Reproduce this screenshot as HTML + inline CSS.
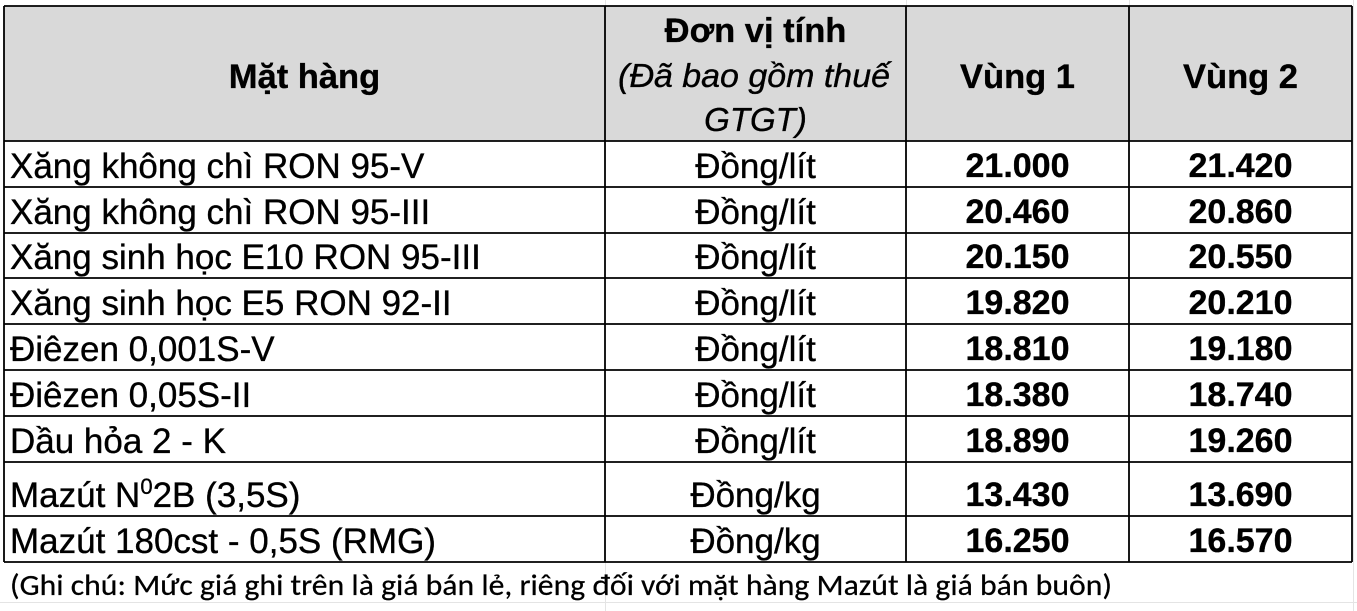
<!DOCTYPE html>
<html>
<head>
<meta charset="utf-8">
<style>
  html,body{margin:0;padding:0;background:#fff;}
  svg{display:block;}
  .t{font-family:"Liberation Sans","DejaVu Sans",sans-serif;fill:#000;stroke:#000;stroke-width:0.35px;}
  .r{font-size:35px;}
  .b{font-size:34.5px;font-weight:bold;}
  .n{font-size:34px;font-weight:bold;}
  .i{font-size:33px;font-style:italic;}
  .f{font-family:"Carlito","Liberation Sans",sans-serif;font-size:30px;fill:#000;stroke:#000;stroke-width:0.25px;}
</style>
</head>
<body>
<svg width="1357" height="611" viewBox="0 0 1357 611" xmlns="http://www.w3.org/2000/svg">
  <rect x="0" y="0" width="1357" height="611" fill="#fff"/>
  <g stroke="#e4e4e4" stroke-width="1">
    <line x1="605.5" y1="0" x2="605.5" y2="6"/>
    <line x1="906.5" y1="0" x2="906.5" y2="6"/>
    <line x1="1129.5" y1="0" x2="1129.5" y2="6"/>
    <line x1="605.5" y1="562" x2="605.5" y2="611"/>
    <line x1="1353.5" y1="0" x2="1353.5" y2="611"/>
    <line x1="0" y1="602.5" x2="1357" y2="602.5"/>
  </g>
  <rect x="4" y="6" width="1348" height="135" fill="#d9d9d9"/>

  <g stroke="#000" stroke-width="1.8">
    <line x1="4" y1="6" x2="1352" y2="6"/>
    <line x1="4" y1="141" x2="1352" y2="141"/>
    <line x1="4" y1="187" x2="1352" y2="187"/>
    <line x1="4" y1="233" x2="1352" y2="233"/>
    <line x1="4" y1="278" x2="1352" y2="278"/>
    <line x1="4" y1="324" x2="1352" y2="324"/>
    <line x1="4" y1="370" x2="1352" y2="370"/>
    <line x1="4" y1="416" x2="1352" y2="416"/>
    <line x1="4" y1="462" x2="1352" y2="462"/>
    <line x1="4" y1="516" x2="1352" y2="516"/>
    <line x1="4" y1="562" x2="1352" y2="562"/>
    <line x1="4" y1="6" x2="4" y2="562"/>
    <line x1="605" y1="6" x2="605" y2="562"/>
    <line x1="906" y1="6" x2="906" y2="562"/>
    <line x1="1129" y1="6" x2="1129" y2="562"/>
    <line x1="1352" y1="6" x2="1352" y2="562"/>
  </g>

  <text class="t b" x="304.5" y="88" text-anchor="middle">Mặt hàng</text>
  <text class="t b" x="755.5" y="42" text-anchor="middle">Đơn vị tính</text>
  <text class="t i" x="754" y="87" text-anchor="middle" textLength="272" lengthAdjust="spacingAndGlyphs">(Đã bao gồm thuế</text>
  <text class="t i" x="755.5" y="131" text-anchor="middle">GTGT)</text>
  <text class="t b" x="1017.5" y="88" text-anchor="middle">Vùng 1</text>
  <text class="t b" x="1240.5" y="88" text-anchor="middle">Vùng 2</text>

  <g>
    <text class="t r" x="10" y="178">Xăng không chì RON 95-V</text>
    <text class="t r" x="755.5" y="178" text-anchor="middle">Đồng/lít</text>
    <text class="t n" x="1017.5" y="177" text-anchor="middle">21.000</text>
    <text class="t n" x="1240.5" y="177" text-anchor="middle">21.420</text>

    <text class="t r" x="10" y="224">Xăng không chì RON 95-III</text>
    <text class="t r" x="755.5" y="224" text-anchor="middle">Đồng/lít</text>
    <text class="t n" x="1017.5" y="223" text-anchor="middle">20.460</text>
    <text class="t n" x="1240.5" y="223" text-anchor="middle">20.860</text>

    <text class="t r" x="10" y="269">Xăng sinh học E10 RON 95-III</text>
    <text class="t r" x="755.5" y="269" text-anchor="middle">Đồng/lít</text>
    <text class="t n" x="1017.5" y="268" text-anchor="middle">20.150</text>
    <text class="t n" x="1240.5" y="268" text-anchor="middle">20.550</text>

    <text class="t r" x="10" y="315">Xăng sinh học E5 RON 92-II</text>
    <text class="t r" x="755.5" y="315" text-anchor="middle">Đồng/lít</text>
    <text class="t n" x="1017.5" y="314" text-anchor="middle">19.820</text>
    <text class="t n" x="1240.5" y="314" text-anchor="middle">20.210</text>

    <text class="t r" x="10" y="361">Điêzen 0,001S-V</text>
    <text class="t r" x="755.5" y="361" text-anchor="middle">Đồng/lít</text>
    <text class="t n" x="1017.5" y="360" text-anchor="middle">18.810</text>
    <text class="t n" x="1240.5" y="360" text-anchor="middle">19.180</text>

    <text class="t r" x="10" y="407">Điêzen 0,05S-II</text>
    <text class="t r" x="755.5" y="407" text-anchor="middle">Đồng/lít</text>
    <text class="t n" x="1017.5" y="406" text-anchor="middle">18.380</text>
    <text class="t n" x="1240.5" y="406" text-anchor="middle">18.740</text>

    <text class="t r" x="10" y="453">Dầu hỏa 2 - K</text>
    <text class="t r" x="755.5" y="453" text-anchor="middle">Đồng/lít</text>
    <text class="t n" x="1017.5" y="452" text-anchor="middle">18.890</text>
    <text class="t n" x="1240.5" y="452" text-anchor="middle">19.260</text>

    <text class="t r" x="10" y="507">Mazút N<tspan font-size="22" dy="-13">0</tspan><tspan dy="13">2B (3,5S)</tspan></text>
    <text class="t r" x="755.5" y="507" text-anchor="middle">Đồng/kg</text>
    <text class="t n" x="1017.5" y="506" text-anchor="middle">13.430</text>
    <text class="t n" x="1240.5" y="506" text-anchor="middle">13.690</text>

    <text class="t r" x="10" y="553">Mazút 180cst - 0,5S (RMG)</text>
    <text class="t r" x="755.5" y="553" text-anchor="middle">Đồng/kg</text>
    <text class="t n" x="1017.5" y="552" text-anchor="middle">16.250</text>
    <text class="t n" x="1240.5" y="552" text-anchor="middle">16.570</text>
  </g>

  <text class="f" x="10" y="595" textLength="1102" lengthAdjust="spacingAndGlyphs">(Ghi chú: Mức giá ghi trên là giá bán lẻ, riêng đối với mặt hàng Mazút là giá bán buôn)</text>
</svg>
</body>
</html>
